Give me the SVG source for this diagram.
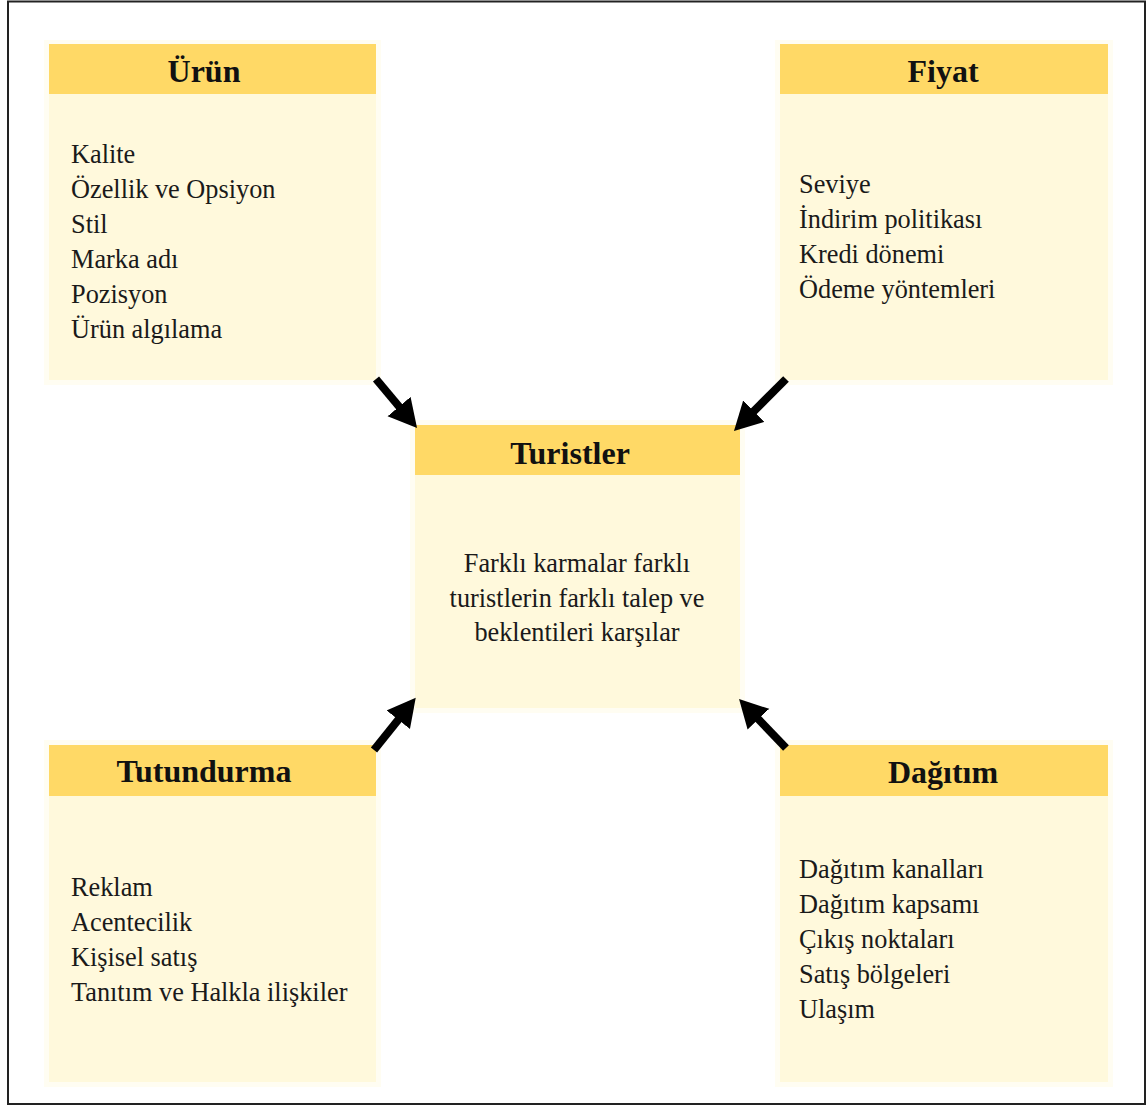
<svg xmlns="http://www.w3.org/2000/svg" width="1148" height="1106" viewBox="0 0 1148 1106">
<defs>
<style>
.hdr{fill:#FFD966}
.body{fill:#FFF9DC}
.glow{fill:#FFFDF2}
.title{font-family:"Liberation Serif",serif;font-weight:bold;font-size:32px;fill:#111;text-anchor:middle}
.item{font-family:"Liberation Serif",serif;font-size:26.3px;fill:#1a1a1a}
.ctr{font-family:"Liberation Serif",serif;font-size:26.3px;fill:#1a1a1a;text-anchor:middle}
.arr{stroke:#000;stroke-width:8;fill:none;marker-end:url(#ah)}
</style>
<marker id="ah" markerUnits="userSpaceOnUse" markerWidth="32" markerHeight="32" refX="10" refY="15" orient="auto">
<path d="M0,0 L28,15 L0,30 z" fill="#000"/>
</marker>
</defs>
<rect x="0" y="0" width="1148" height="1106" fill="#fff"/>
<rect x="8" y="1.5" width="1137" height="1102.5" fill="none" stroke="#222" stroke-width="2"/>

<g id="urun">
<rect class="glow" x="44" y="40" width="337" height="345"/>
<rect class="body" x="49" y="93" width="327" height="287"/>
<rect class="hdr" x="49" y="44" width="327" height="50"/>
<text class="title" x="204" y="82">Ürün</text>
<text class="item" x="71" y="163">Kalite</text>
<text class="item" x="71" y="198">Özellik ve Opsiyon</text>
<text class="item" x="71" y="233">Stil</text>
<text class="item" x="71" y="268">Marka adı</text>
<text class="item" x="71" y="303">Pozisyon</text>
<text class="item" x="71" y="338">Ürün algılama</text>
</g>

<g id="fiyat">
<rect class="glow" x="775" y="40" width="338" height="345"/>
<rect class="body" x="780" y="93" width="328" height="287"/>
<rect class="hdr" x="780" y="44" width="328" height="50"/>
<text class="title" x="943" y="82">Fiyat</text>
<text class="item" x="799" y="193">Seviye</text>
<text class="item" x="799" y="228">İndirim politikası</text>
<text class="item" x="799" y="263">Kredi dönemi</text>
<text class="item" x="799" y="298">Ödeme yöntemleri</text>
</g>

<g id="turistler">
<rect class="glow" x="410" y="420" width="335" height="293"/>
<rect class="body" x="415" y="474" width="325" height="234"/>
<rect class="hdr" x="415" y="425" width="325" height="50"/>
<text class="title" x="570" y="464">Turistler</text>
<text class="ctr" x="577" y="572">Farklı karmalar farklı</text>
<text class="ctr" x="577" y="607">turistlerin farklı talep ve</text>
<text class="ctr" x="577" y="641">beklentileri karşılar</text>
</g>

<g id="tutundurma">
<rect class="glow" x="44" y="740" width="337" height="347"/>
<rect class="body" x="49" y="795" width="327" height="287"/>
<rect class="hdr" x="49" y="745" width="327" height="51"/>
<text class="title" x="204" y="782">Tutundurma</text>
<text class="item" x="71" y="896">Reklam</text>
<text class="item" x="71" y="931">Acentecilik</text>
<text class="item" x="71" y="966">Kişisel satış</text>
<text class="item" x="71" y="1001">Tanıtım ve Halkla ilişkiler</text>
</g>

<g id="dagitim">
<rect class="glow" x="775" y="740" width="338" height="347"/>
<rect class="body" x="780" y="795" width="328" height="287"/>
<rect class="hdr" x="780" y="745" width="328" height="51"/>
<text class="title" x="943" y="783">Dağıtım</text>
<text class="item" x="799" y="878">Dağıtım kanalları</text>
<text class="item" x="799" y="913">Dağıtım kapsamı</text>
<text class="item" x="799" y="948">Çıkış noktaları</text>
<text class="item" x="799" y="983">Satış bölgeleri</text>
<text class="item" x="799" y="1018">Ulaşım</text>
</g>

<g id="connectors">
<line class="arr" x1="376" y1="379" x2="405.5" y2="414.2"/>
<line class="arr" x1="786" y1="379" x2="746.7" y2="418.3"/>
<line class="arr" x1="374" y1="750" x2="404.5" y2="711.9"/>
<line class="arr" x1="786" y1="748" x2="751.5" y2="712"/>
</g>
</svg>
